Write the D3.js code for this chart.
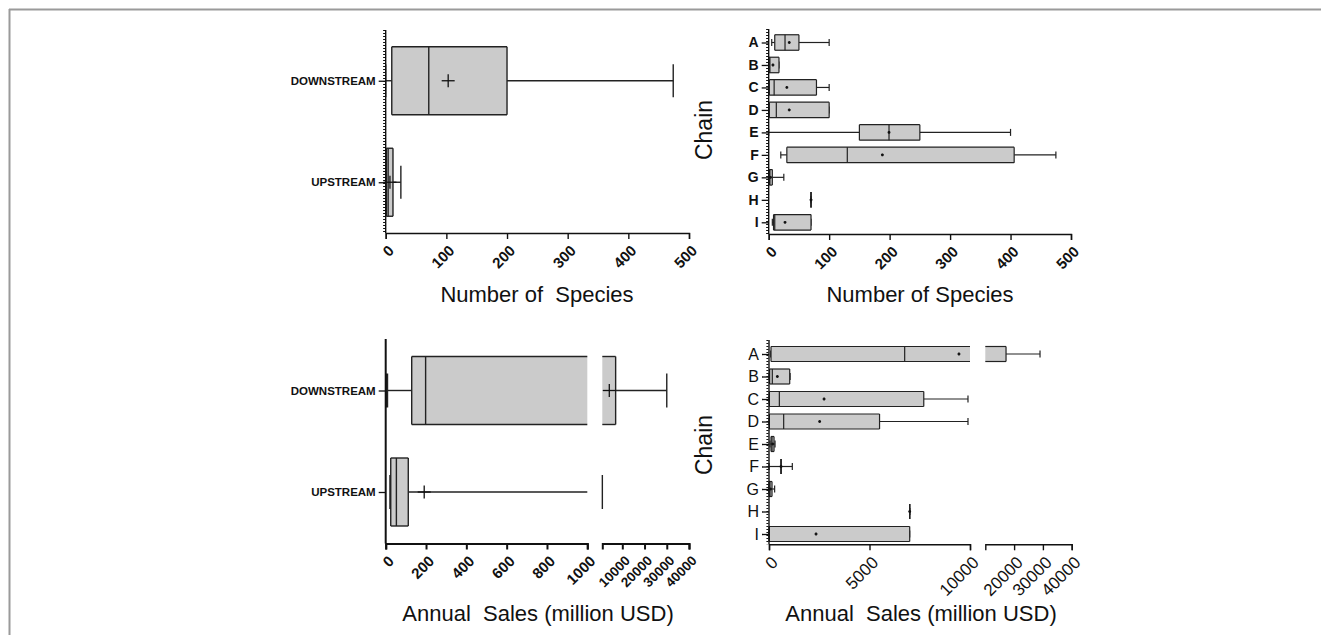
<!DOCTYPE html>
<html><head><meta charset="utf-8">
<script src="https://cdn.jsdelivr.net/npm/d3@7"></script>
<style>
body{margin:0;background:#fff}
svg{display:block}
text{font-family:Arial,"Liberation Sans",Helvetica,sans-serif;fill:#111}
</style>
</head><body>
<svg id="c" width="1321" height="635"></svg>
<script>
// ---------- DATA ----------
const streamCats = ["DOWNSTREAM", "UPSTREAM"];
const chainCats = ["A", "B", "C", "D", "E", "F", "G", "H", "I"];

// Number of species by stream position
const spStreamMin  = [0, 1];
const spStreamQ1   = [10, 1];
const spStreamMed  = [71, 4];
const spStreamQ3   = [200, 12];
const spStreamMax  = [474, 25];
const spStreamMean = [103, 7];

// Number of species by chain
const spChainMin  = [5, 0, 0, 0, 0, 20, 0.5, 70, 6];
const spChainQ1   = [10, 0.5, 1, 1, 150, 30, 1, 70, 8];
const spChainMed  = [27, 2, 9, 12.6, 199, 130, 2, 70, 10];
const spChainQ3   = [50, 17, 79, 100, 250, 406, 6, 70, 70];
const spChainMax  = [100, 17, 100, 100, 400, 475, 25, 70, 70];
const spChainMean = [34, 7, 30, 34, 199, 188, 3, 70, 27];

// Annual sales by stream position (million USD)
const salesStreamMin  = [5, 25];
const salesStreamQ1   = [129, 25];
const salesStreamMed  = [198, 53];
const salesStreamQ3   = [7000, 112];
const salesStreamMax  = [30000, 1020];
const salesStreamMean = [4150, 191];

// Annual sales by chain (million USD)
const salesChainMin  = [85, 0, 0, 0, 50, 0, 0, 7000, 0];
const salesChainQ1   = [100, 30, 20, 20, 100, 600, 0, 7000, 0];
const salesChainMed  = [6750, 165, 515, 730, 150, 600, 50, 7000, 20];
const salesChainQ3   = [17200, 1030, 7700, 5500, 250, 600, 150, 7000, 7000];
const salesChainMax  = [29000, 1050, 9900, 9900, 300, 1160, 280, 7000, 7000];
const salesChainMean = [9450, 415, 2740, 2520, 180, 600, 80, 7000, 2340];

// Tick labels
const speciesTicks = [0, 100, 200, 300, 400, 500];
const salesStreamTicksLow = [0, 200, 400, 600, 800, 1000];
const salesStreamTicksHigh = [10000, 20000, 30000, 40000];
const salesChainTicksLow = [0, 5000, 10000];
const salesChainTicksHigh = [20000, 30000, 40000];

// ---------- DRAWING ----------
const svg = d3.select("#c");
const FONT = 'Arial,"Liberation Sans",Helvetica,sans-serif';

// figure frame
svg.append("line").attr("x1", 9).attr("x2", 1321).attr("y1", 9.5).attr("y2", 9.5)
  .attr("stroke", "#9a9a9a").attr("stroke-width", 2);
svg.append("line").attr("x1", 9.5).attr("x2", 9.5).attr("y1", 9).attr("y2", 635)
  .attr("stroke", "#9a9a9a").attr("stroke-width", 2);

function makeStats(cats, mn, q1, md, q3, mx, mean) {
  return cats.map((c, i) => ({cat: c, min: mn[i], q1: q1[i], med: md[i], q3: q3[i], max: mx[i], mean: mean[i]}));
}

function drawPanel(o) {
  const g = svg.append("g");
  const segs = o.segs.map(s => ({d0: s.d[0], d1: s.d[1], sc: d3.scaleLinear().domain(s.d).range(s.r), ticks: s.ticks, ts: s.ts}));
  const y = d3.scalePoint().domain(o.cats).range(o.yRange);
  const ink = "#222";

  function segPos(v) {
    for (const s of segs) if (v >= s.d0 && v <= s.d1) return s.sc(v);
    return null;
  }
  function hline(a, b, yy) {
    for (const s of segs) {
      const lo = Math.max(a, s.d0), hi = Math.min(b, s.d1);
      if (lo <= hi && b > a) {
        g.append("line").attr("x1", s.sc(lo)).attr("x2", s.sc(hi)).attr("y1", yy).attr("y2", yy)
          .attr("stroke", ink).attr("stroke-width", o.lw);
      }
    }
  }
  function vline(v, yy, h, w) {
    const x = segPos(v);
    if (x === null) return;
    g.append("line").attr("x1", x).attr("x2", x).attr("y1", yy - h / 2).attr("y2", yy + h / 2)
      .attr("stroke", ink).attr("stroke-width", w || o.lw);
  }

  o.stats.forEach(d => {
    const cy = y(d.cat), h = o.boxH;
    hline(d.min, d.q1, cy);
    hline(d.q3, d.max, cy);
    vline(d.min, cy, o.capH, o.minCapW);
    vline(d.max, cy, o.capH);
    for (const s of segs) {
      const lo = Math.max(d.q1, s.d0), hi = Math.min(d.q3, s.d1);
      if (lo <= hi) {
        g.append("rect").attr("x", s.sc(lo)).attr("y", cy - h / 2)
          .attr("width", Math.max(0, s.sc(hi) - s.sc(lo))).attr("height", h)
          .attr("fill", "#cbcbcb");
      }
    }
    hline(d.q1, d.q3, cy - h / 2);
    hline(d.q1, d.q3, cy + h / 2);
    vline(d.q1, cy, h);
    vline(d.q3, cy, h);
    vline(d.med, cy, h);
    const mx = segPos(d.mean);
    if (mx !== null) {
      g.append("line").attr("x1", mx - o.meanR).attr("x2", mx + o.meanR).attr("y1", cy).attr("y2", cy)
        .attr("stroke", "#111").attr("stroke-width", o.meanW);
      g.append("line").attr("x1", mx).attr("x2", mx).attr("y1", cy - o.meanR).attr("y2", cy + o.meanR)
        .attr("stroke", "#111").attr("stroke-width", o.meanW);
    }
  });

  // y axis
  const ax = segs[0].sc(segs[0].d0);
  g.append("line").attr("x1", ax).attr("x2", ax).attr("y1", o.axisTop).attr("y2", o.axisBottom)
    .attr("stroke", "#111").attr("stroke-width", o.yAxisW);
  if (o.dotted) {
    g.append("line").attr("x1", ax - 1.6).attr("x2", ax - 1.6).attr("y1", o.axisTop).attr("y2", o.axisBottom)
      .attr("stroke", "#111").attr("stroke-width", 2).attr("stroke-dasharray", "1,2");
  }
  const yAxis = g.append("g").attr("transform", `translate(${ax},0)`)
    .call(d3.axisLeft(y).tickSize(7).tickSizeOuter(0).tickPadding(3));
  yAxis.select(".domain").remove();
  yAxis.selectAll(".tick line").attr("stroke", "#111").attr("stroke-width", 1.3);
  yAxis.selectAll("text").attr("font-family", FONT).attr("font-size", o.catSize)
    .attr("font-weight", o.catWeight).attr("fill", "#111");

  // x axis segments
  segs.forEach(s => {
    const xa = g.append("g").attr("transform", `translate(0,${o.axisBottom})`)
      .call(d3.axisBottom(s.sc).tickValues(s.ticks).tickSize(6).tickSizeOuter(6).tickFormat(d3.format("d")));
    xa.select(".domain").attr("stroke", "#111").attr("stroke-width", o.xAxisW);
    xa.selectAll(".tick line").attr("stroke", "#111").attr("stroke-width", o.xAxisW);
    xa.selectAll("text").attr("font-family", FONT).attr("font-size", s.ts || o.tickSize)
      .attr("font-weight", o.tickWeight).attr("fill", "#111")
      .attr("text-anchor", "end").attr("x", o.tx).attr("y", o.ty).attr("dy", "0.55em")
      .attr("transform", "rotate(-45)");
  });

  // titles
  g.append("text").attr("x", o.xTitleX).attr("y", o.xTitleY).attr("text-anchor", "middle")
    .attr("font-size", 22).style("white-space", "pre").attr("fill", "#111").text(o.xTitle);
  if (o.yTitle) {
    g.append("text").attr("transform", `translate(${o.yTitleX},${o.yTitleY}) rotate(-90)`)
      .attr("text-anchor", "middle").attr("font-size", 23).attr("fill", "#111").text(o.yTitle);
  }
}

// Top-left
drawPanel({
  cats: streamCats,
  stats: makeStats(streamCats, spStreamMin, spStreamQ1, spStreamMed, spStreamQ3, spStreamMax, spStreamMean),
  segs: [{d: [0, 500], r: [385.7, 689], ticks: speciesTicks}],
  yRange: [80.75, 182.25], axisTop: 30, axisBottom: 233,
  boxH: 68, capH: 33, meanR: 6.5, meanW: 1.3, lw: 1.4,
  yAxisW: 1.4, xAxisW: 1.4, dotted: true,
  catSize: 11.5, catWeight: "bold", tickSize: 15, tickWeight: "bold", tx: -7, ty: 11,
  xTitle: "Number of  Species", xTitleX: 537, xTitleY: 302
});

// Top-right
drawPanel({
  cats: chainCats,
  stats: makeStats(chainCats, spChainMin, spChainQ1, spChainMed, spChainQ3, spChainMax, spChainMean),
  segs: [{d: [0, 500], r: [768.7, 1071], ticks: speciesTicks}],
  yRange: [42.5, 222.3], axisTop: 29, axisBottom: 234,
  boxH: 15.5, capH: 7, meanR: 1.4, meanW: 1.6, lw: 1.2,
  yAxisW: 1.4, xAxisW: 1.4, dotted: true,
  catSize: 14, catWeight: "bold", tickSize: 15, tickWeight: "bold", tx: -7, ty: 11,
  xTitle: "Number of Species", xTitleX: 920, xTitleY: 302,
  yTitle: "Chain", yTitleX: 712, yTitleY: 130
});

// Bottom-left
drawPanel({
  cats: streamCats,
  stats: makeStats(streamCats, salesStreamMin, salesStreamQ1, salesStreamMed, salesStreamQ3, salesStreamMax, salesStreamMean),
  segs: [{d: [0, 1000], r: [385.7, 587.3], ticks: salesStreamTicksLow, ts: 15},
         {d: [1000, 40000], r: [602.3, 689], ticks: salesStreamTicksHigh, ts: 13.5}],
  yRange: [390.5, 492], axisTop: 339, axisBottom: 543.5,
  boxH: 68, capH: 34, meanR: 6.5, meanW: 1.3, lw: 1.4, minCapW: 3,
  yAxisW: 2, xAxisW: 2, dotted: false,
  catSize: 11.5, catWeight: "bold", tickSize: 15, tickWeight: "bold", tx: -7, ty: 11,
  xTitle: "Annual  Sales (million USD)", xTitleX: 538, xTitleY: 621
});

// Bottom-right
drawPanel({
  cats: chainCats,
  stats: makeStats(chainCats, salesChainMin, salesChainQ1, salesChainMed, salesChainQ3, salesChainMax, salesChainMean),
  segs: [{d: [0, 10000], r: [769, 970], ticks: salesChainTicksLow},
         {d: [10000, 40000], r: [985.3, 1071.7], ticks: salesChainTicksHigh}],
  yRange: [354, 534], axisTop: 340, axisBottom: 544.3,
  boxH: 15, capH: 7, meanR: 1.4, meanW: 1.6, lw: 1.2,
  yAxisW: 1.4, xAxisW: 1.4, dotted: true,
  catSize: 16, catWeight: "normal", tickSize: 17, tickWeight: "normal", tx: -7, ty: 11,
  xTitle: "Annual  Sales (million USD)", xTitleX: 921, xTitleY: 621,
  yTitle: "Chain", yTitleX: 712, yTitleY: 445
});
</script>
</body></html>
